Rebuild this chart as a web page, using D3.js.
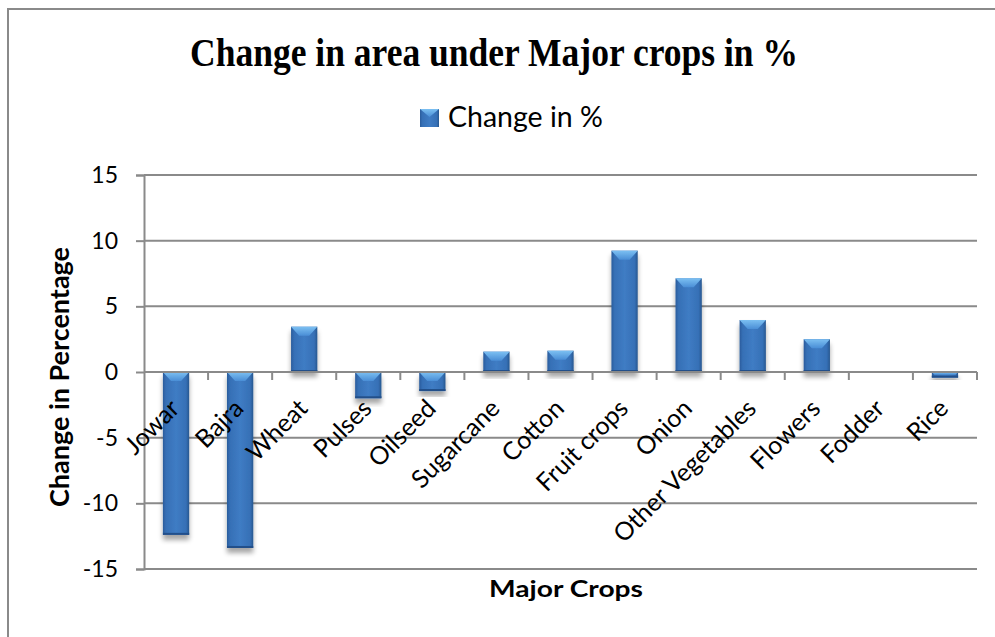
<!DOCTYPE html>
<html><head><meta charset="utf-8">
<script src="https://cdn.jsdelivr.net/npm/d3@7"></script>
<style>body{margin:0;background:#fff}</style>
</head><body><svg id="c" width="995" height="637"></svg>
<script>
const categories = ["Jowar","Bajra","Wheat","Pulses","Oilseed","Sugarcane","Cotton","Fruit crops","Onion","Other Vegetables","Flowers","Fodder","Rice"];
const changePct = [-12.4,-13.4,3.45,-2.0,-1.45,1.55,1.62,9.24,7.13,3.96,2.5,0,-0.43];
const yTicks = [-15,-10,-5,0,5,10,15];
const seriesName = "Change in %";
const titleText = "Change in area under Major crops in %";
const xTitle = "Major Crops";
const yTitle = "Change in Percentage";

const svg = d3.select("#c");
const sans = "Lato, 'Open Sans', sans-serif";
const grid = "#8a8a8a";
const L = 144, R = 977, T = 175, B = 569;

const x = d3.scaleBand().domain(categories).range([L, R]).paddingInner(0.59).paddingOuter(0.295);
const y = d3.scaleLinear().domain([-15, 15]).range([B, T]);

const defs = svg.append("defs");
const g1 = defs.append("linearGradient").attr("id","barG").attr("x1","0").attr("x2","1").attr("y1","0").attr("y2","0");
g1.append("stop").attr("offset","0").attr("stop-color","#2a5c9c");
g1.append("stop").attr("offset","0.12").attr("stop-color","#3670b6");
g1.append("stop").attr("offset","0.5").attr("stop-color","#3f7cc4");
g1.append("stop").attr("offset","0.88").attr("stop-color","#3670b6");
g1.append("stop").attr("offset","1").attr("stop-color","#27578f");
const g2 = defs.append("linearGradient").attr("id","triG").attr("x1","0").attr("x2","0").attr("y1","0").attr("y2","1");
g2.append("stop").attr("offset","0").attr("stop-color","#7cc0f2");
g2.append("stop").attr("offset","1").attr("stop-color","#4a8ed6");
const f = defs.append("filter").attr("id","sh").attr("x","-30%").attr("y","-30%").attr("width","160%").attr("height","160%");
f.append("feGaussianBlur").attr("in","SourceAlpha").attr("stdDeviation","2.5");
f.append("feOffset").attr("dy","5").attr("result","b");
f.append("feComponentTransfer").append("feFuncA").attr("type","linear").attr("slope","0.35");
const fm = f.append("feMerge"); fm.append("feMergeNode"); fm.append("feMergeNode").attr("in","SourceGraphic");

// outer frame
svg.append("rect").attr("x",8).attr("y",9).attr("width",1010).attr("height",700)
  .attr("fill","none").attr("stroke",grid).attr("stroke-width",2);

// title
svg.append("text").attr("x",494).attr("y",66).attr("text-anchor","middle")
  .attr("font-family","'Liberation Serif','Times New Roman',serif").attr("font-weight","bold")
  .attr("font-size",39).attr("textLength",608).attr("lengthAdjust","spacingAndGlyphs")
  .text(titleText);

// legend
const lg = svg.append("g");
lg.append("rect").attr("x",420).attr("y",109).attr("width",19).attr("height",18).attr("fill","url(#barG)");
lg.append("path").attr("d","M420,109 L439,109 L429.5,117 Z").attr("fill","url(#triG)");
lg.append("text").attr("x",448).attr("y",127).attr("font-family",sans).attr("font-size",28.5).attr("fill","#000").text(seriesName);

// gridlines
svg.append("g").selectAll("line").data(yTicks.filter(d => d !== 0)).join("line")
  .attr("x1",L).attr("x2",R).attr("y1",d=>y(d)).attr("y2",d=>y(d))
  .attr("stroke",grid).attr("stroke-width",2);

// y axis
const ya = svg.append("g").attr("transform",`translate(${L},0)`)
  .call(d3.axisLeft(y).tickValues(yTicks).tickFormat(d => String(d)).tickSize(8).tickPadding(18));
ya.select(".domain").attr("stroke",grid).attr("stroke-width",2);
ya.selectAll(".tick line").attr("stroke",grid).attr("stroke-width",2);
ya.selectAll(".tick text").attr("font-family",sans).attr("font-size",23).attr("fill","#000");

// bars
const bars = svg.append("g").selectAll("g").data(categories).join("g").attr("filter","url(#sh)");
bars.each(function(c, i){
  const v = changePct[i];
  if (v === 0) return;
  const gx = x(c), w = x.bandwidth();
  const top = y(Math.max(0, v)), h = Math.abs(y(v) - y(0));
  const g = d3.select(this);
  g.append("rect").attr("x",gx).attr("y",top).attr("width",w).attr("height",h).attr("fill","url(#barG)");
  const th = Math.min(9, h*0.5);
  g.append("path").attr("d",`M${gx},${top} L${gx+w},${top} L${gx+w-th*0.9},${top+th} L${gx+th*0.9},${top+th} Z`)
    .attr("fill","url(#triG)");
  g.append("rect").attr("x",gx).attr("y",top+h-2).attr("width",w).attr("height",2).attr("fill","#24508a");
});

// x axis line at 0 with ticks
const xa = svg.append("g");
xa.append("line").attr("x1",L).attr("x2",R).attr("y1",y(0)).attr("y2",y(0)).attr("stroke",grid).attr("stroke-width",2);
xa.selectAll("line.t").data(d3.range(1, categories.length + 1)).join("line").attr("class","t")
  .attr("x1",d=>L + d*x.step()).attr("x2",d=>L + d*x.step())
  .attr("y1",y(0)).attr("y2",y(0)+8).attr("stroke",grid).attr("stroke-width",2);

// category labels
svg.append("g").selectAll("text").data(categories).join("text")
  .attr("transform",c=>`translate(${x(c)+x.bandwidth()/2+5},${y(0)+38}) rotate(-45)`)
  .attr("text-anchor","end").attr("font-family",sans).attr("font-size",25).attr("fill","#000")
  .text(c=>c);

// axis titles
svg.append("text").attr("x",566).attr("y",597).attr("text-anchor","middle")
  .attr("font-family",sans).attr("font-weight","bold").attr("font-size",22)
  .attr("textLength",154).attr("lengthAdjust","spacingAndGlyphs").text(xTitle);
svg.append("text").attr("transform","translate(69,377) rotate(-90)").attr("text-anchor","middle")
  .attr("font-family",sans).attr("font-weight","bold").attr("font-size",26)
  .attr("textLength",260).attr("lengthAdjust","spacingAndGlyphs").text(yTitle);
</script></body></html>
